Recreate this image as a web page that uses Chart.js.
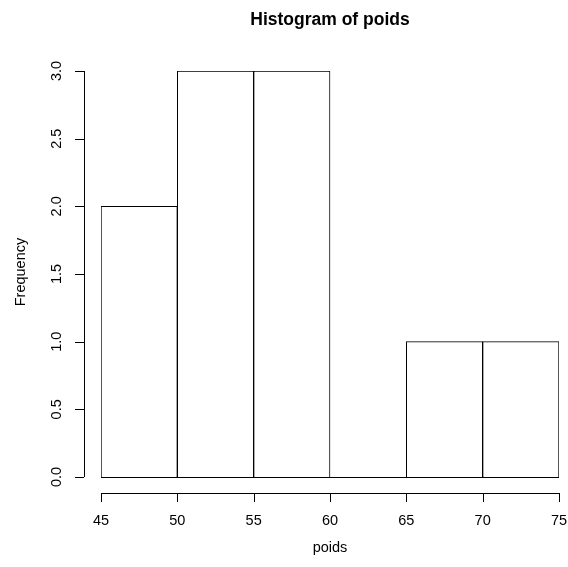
<!DOCTYPE html>
<html>
<head>
<meta charset="utf-8">
<script src="https://cdn.jsdelivr.net/npm/chart.js@4.4.1/dist/chart.umd.min.js"></script>
<style>
  html, body { margin: 0; padding: 0; background: #fff; }
  #wrap { width: 568px; height: 567px; }
</style>
</head>
<body>
<div id="wrap"><canvas id="myChart" width="568" height="567"></canvas></div>
<script>
// Limites des classes et effectifs
var classes = [45, 50, 55, 60, 65, 70, 75];
var effectifs = [2, 3, 3, 0, 1, 1];
var xTicks = [45, 50, 55, 60, 65, 70, 75];
var yTicks = [0, 0.5, 1, 1.5, 2, 2.5, 3];
var yTickLabels = ['0.0', '0.5', '1.0', '1.5', '2.0', '2.5', '3.0'];
var titre = 'Histogram of poids';
var titreX = 'poids';
var titreY = 'Frequency';

var police = '"Liberation Sans", Arial, sans-serif';

// Points au centre de chaque classe
var points = [];
for (var i = 0; i < effectifs.length; i++) {
    points.push({ x: (classes[i] + classes[i + 1]) / 2, y: effectifs[i] });
}

// Axes façon R (décalés du cadre) dessinés avec les échelles de Chart.js
var axesR = {
    id: 'axesR',
    afterDraw: function(chart) {
        var ctx = chart.ctx;
        var sx = chart.scales.x;
        var sy = chart.scales.y;
        var area = chart.chartArea;
        ctx.save();
        ctx.strokeStyle = '#000';
        ctx.fillStyle = '#000';
        ctx.lineWidth = 1;

        // ligne de base (classe vide incluse)
        var y0 = Math.round(sy.getPixelForValue(0)) + 0.5;
        ctx.beginPath();
        ctx.moveTo(sx.getPixelForValue(classes[0]), y0);
        ctx.lineTo(sx.getPixelForValue(classes[classes.length - 1]), y0);
        ctx.stroke();

        // axe x
        var ax = area.bottom + 16;
        ctx.beginPath();
        ctx.moveTo(sx.getPixelForValue(xTicks[0]), ax + 0.5);
        ctx.lineTo(sx.getPixelForValue(xTicks[xTicks.length - 1]), ax + 0.5);
        xTicks.forEach(function(t) {
            var px = Math.round(sx.getPixelForValue(t)) + 0.5;
            ctx.moveTo(px, ax);
            ctx.lineTo(px, ax + 9);
        });
        ctx.stroke();
        ctx.font = '14.5px ' + police;
        ctx.textAlign = 'center';
        ctx.textBaseline = 'middle';
        xTicks.forEach(function(t) {
            ctx.fillText(String(t), sx.getPixelForValue(t), ax + 28);
        });

        // axe y
        var ay = area.left - 17;
        ctx.beginPath();
        ctx.moveTo(ay + 0.5, sy.getPixelForValue(yTicks[0]));
        ctx.lineTo(ay + 0.5, sy.getPixelForValue(yTicks[yTicks.length - 1]));
        yTicks.forEach(function(t) {
            var py = Math.round(sy.getPixelForValue(t)) + 0.5;
            ctx.moveTo(ay, py);
            ctx.lineTo(ay - 9, py);
        });
        ctx.stroke();
        yTicks.forEach(function(t, k) {
            ctx.save();
            ctx.translate(ay - 27, sy.getPixelForValue(t));
            ctx.rotate(-Math.PI / 2);
            ctx.fillText(yTickLabels[k], 0, 0);
            ctx.restore();
        });

        // titres
        var cx = (area.left + area.right) / 2;
        ctx.font = 'bold 17.5px ' + police;
        ctx.fillText(titre, cx, 20);
        ctx.font = '14.5px ' + police;
        ctx.fillText(titreX, cx, 548);
        ctx.save();
        ctx.translate(21, 272);
        ctx.rotate(-Math.PI / 2);
        ctx.fillText(titreY, 0, 0);
        ctx.restore();
        ctx.restore();
    }
};

var ctx = document.getElementById('myChart').getContext('2d');
var myChart = new Chart(ctx, {
    type: 'bar',
    data: {
        datasets: [{
            label: titreY,
            data: points,
            backgroundColor: '#ffffff',
            borderColor: '#000000',
            borderWidth: 1,
            barPercentage: 1,
            categoryPercentage: 1
        }]
    },
    options: {
        responsive: false,
        animation: false,
        layout: { padding: { left: 101, right: 9, top: 71, bottom: 90 } },
        plugins: {
            legend: { display: false },
            tooltip: { enabled: false }
        },
        scales: {
            x: { type: 'linear', min: classes[0], max: classes[classes.length - 1], display: false, offset: false },
            y: { min: 0, max: 3, display: false }
        }
    },
    plugins: [axesR]
});
</script>
</body>
</html>
